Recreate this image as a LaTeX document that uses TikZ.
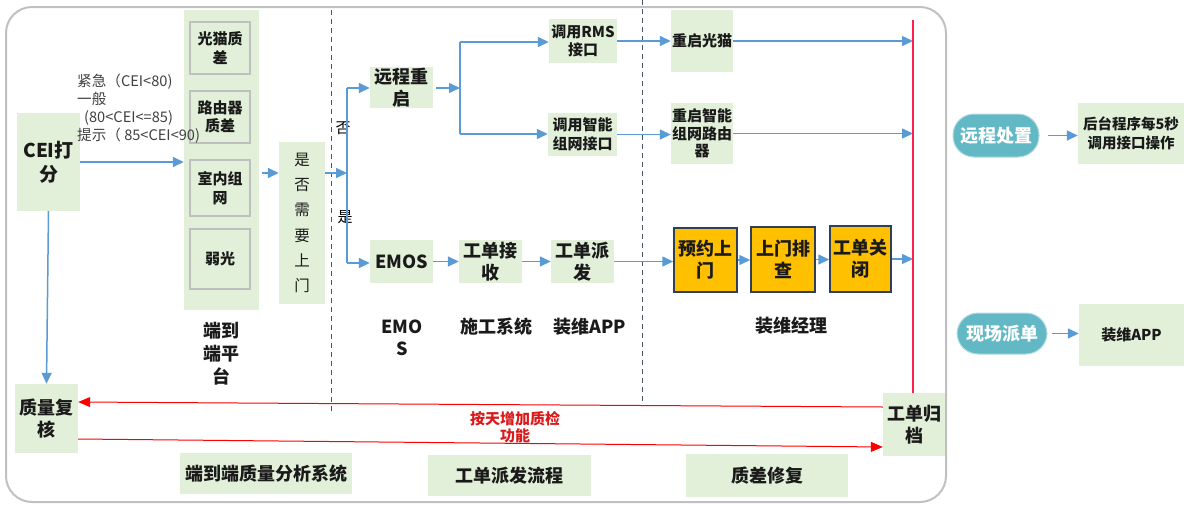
\documentclass[tikz,border=0pt]{standalone}
\usepackage{fontspec}
\setmainfont{Noto Sans CJK SC}
\usetikzlibrary{arrows.meta}
\definecolor{gfill}{HTML}{E2F0D9}
\definecolor{lblue}{HTML}{5B9BD5}
\definecolor{dashc}{HTML}{44546A}
\definecolor{orng}{HTML}{FFC000}
\definecolor{navyb}{HTML}{2F3F55}
\definecolor{pillc}{HTML}{62B8C4}
\definecolor{grayb}{HTML}{BFBFBF}
\definecolor{framec}{HTML}{C0C0C0}
\definecolor{txtc}{HTML}{1A1A1A}
\definecolor{condc}{HTML}{404040}
\definecolor{redv}{HTML}{FF2050}
\definecolor{redl}{HTML}{D91A1A}
\newcommand\bx[7][]{\node[#1, minimum width={#4-#2}, minimum height={#5-#3}] (#6) at ({(#2+#4)/2},{(#3+#5)/2}) {#7};}
\begin{document}
\begin{tikzpicture}[x=1pt,y=-1pt,
  base/.style={inner sep=0pt, align=center, text=txtc},
  gbox/.style={base, fill=gfill, font=\fontsize{18}{22}\selectfont\bfseries},
  sbox/.style={base, fill=gfill, font=\fontsize{15}{18.5}\selectfont\bfseries},
  grbox/.style={sbox, draw=grayb, line width=2pt},
  obox/.style={base, fill=orng, draw=navyb, line width=1.5pt, font=\fontsize{18}{22}\selectfont\bfseries},
  pill/.style={base, fill=pillc, draw=pillc!50!white, line width=1pt, rounded corners=21pt, text=white, font=\fontsize{18}{22}\selectfont\bfseries},
  lbl/.style={inner sep=0pt, align=center, text=txtc, font=\fontsize{18}{22.5}\selectfont\bfseries},
  bline/.style={draw=lblue, line width=1.5pt},
  barrow/.style={bline, -{Triangle[length=11pt,width=10pt]}},
  rarrow/.style={draw=red, line width=1pt, -{Triangle[length=12pt,width=10pt]}},
  dline/.style={draw=dashc, line width=1pt, dash pattern=on 5pt off 4pt}
]
\useasboundingbox (0,0) rectangle (1184,504);
% frame
\draw[framec, line width=2pt, rounded corners=26pt] (6,7) rectangle (946,502);
% dashed separators
\coordinate (d1a) at (331,10); \coordinate (d1b) at (331,413);
\coordinate (d2a) at (642,0); \coordinate (d2b) at (642,403);
\draw[dline] (d1a) -- (d1b);
\draw[dline] (d2a) -- (d2b);
% nodes
\bx[gbox, font=\fontsize{19}{24}\selectfont\bfseries]{17}{113}{80}{211}{cei}{CEI打\\分}
\bx[base, fill=gfill]{184}{10}{259}{310}{plat}{}
\bx[grbox]{190}{22}{250}{74}{gm}{光猫质\\差}
\bx[grbox]{190}{91}{250}{143}{lyq}{路由器\\质差}
\bx[grbox]{190}{160}{250}{216}{snzw}{室内组\\网}
\bx[grbox]{190}{229}{250}{289}{rg}{弱光}
\bx[base, fill=gfill, font=\fontsize{15.5}{25.3}\selectfont]{279}{142}{325}{304}{sfsm}{是\\否\\需\\要\\上\\门}
\bx[gbox]{370}{67}{433}{108}{ycqq}{远程重\\启}
\bx[sbox]{549}{19}{617}{63}{rms}{调用RMS\\接口}
\bx[sbox]{548}{113}{617}{156}{zn}{调用智能\\组网接口}
\bx[sbox]{671}{10}{733}{72}{cqgm}{重启光猫}
\bx[sbox, font=\fontsize{15}{17.5}\selectfont\bfseries]{671}{103}{733}{164}{cqzn}{重启智能\\组网路由\\器}
\bx[gbox]{370}{240}{433}{283}{emos}{EMOS}
\bx[gbox]{459}{240}{522}{283}{gdjs}{工单接\\收}
\bx[gbox]{551}{240}{614}{283}{gdpf}{工单派\\发}
\bx[obox]{674}{228}{737}{292}{yysm}{预约上\\门}
\bx[obox]{751}{227}{815}{292}{smpc}{上门排\\查}
\bx[obox]{830}{226}{891}{292}{gdgb}{工单关\\闭}
\bx[gbox]{883}{393}{945}{456}{gdgd}{工单归\\档}
\bx[gbox]{15}{384}{78}{453}{qc}{质量复\\核}
\bx[gbox]{180}{453}{352}{494}{lb1}{端到端质量分析系统}
\bx[gbox]{428}{455}{591}{496}{lb2}{工单派发流程}
\bx[gbox]{686}{454}{848}{497}{lb3}{质差修复}
\bx[pill]{953}{114}{1039}{157}{ycz}{远程处置}
\bx[sbox, font=\fontsize{14.5}{19}\selectfont\bfseries]{1078}{103}{1184}{164}{htcx}{后台程序每5秒\\调用接口操作}
\bx[pill]{957}{313}{1047}{354}{xcpd}{现场派单}
\bx[sbox]{1079}{304}{1184}{366}{zwapp}{装维APP}
% free labels
\node[anchor=north west, align=left, inner sep=0pt, text=condc, font=\fontsize{14.6}{18}\selectfont] (cond) at (77,74) {紧急（CEI<80)\\一般\\\hspace*{7pt}(80<CEI<=85)\\提示（ 85<CEI<90)};
\node[lbl, font=\fontsize{18}{23}\selectfont\bfseries] (tplat) at (221,354) {端到\\端平\\台};
\node[lbl] (temos) at (402,338) {EMO\\S};
\node[lbl] (tsg) at (496,327) {施工系统};
\node[lbl] (tzw) at (590,327) {装维APP};
\node[lbl] (tzwjl) at (791,326) {装维经理};
\node[inner sep=0pt, font=\fontsize{15}{18}\selectfont] (tno) at (343,128) {否};
\node[inner sep=0pt, font=\fontsize{15}{18}\selectfont] (tyes) at (345,217) {是};
\node[inner sep=0pt, align=center, text=redl, font=\fontsize{15}{17}\selectfont\bfseries] (tred) at (515,427) {按天增加质检\\功能};
% junction coordinates
\coordinate (j1) at (347,173);
\coordinate (j1a) at (347,88);
\coordinate (j1b) at (347,263);
\coordinate (j2) at (460,88);
\coordinate (j2a) at (460,42);
\coordinate (j2b) at (460,134);
\coordinate (rtop) at (913,20);
% blue connectors
\draw[barrow] (cei.east) -- (cei.east -| plat.west);
\draw[barrow] (cei.south) -- (qc.north);
\draw[barrow, shorten <=3pt] ([yshift=-13pt]plat.east) -- ([yshift=-13pt]plat.east -| sfsm.west);
\draw[barrow] (sfsm.east |- j1) -- (j1);
\draw[bline] (j1a) -- (j1b);
\draw[barrow] (j1a) -- (j1a -| ycqq.west);
\draw[barrow] (j1b) -- (j1b -| emos.west);
\draw[barrow, shorten <=3pt] (ycqq.east |- j2) -- (j2);
\draw[bline] (j2a) -- (j2b);
\draw[barrow] (j2a) -- (j2a -| rms.west);
\draw[barrow] (j2b) -- (j2b -| zn.west);
\draw[barrow] (rms.east) -- (rms.east -| cqgm.west);
\draw[barrow] (zn.east) -- (zn.east -| cqzn.west);
\draw[barrow] (cqgm.east) -- (cqgm.east -| rtop);
\draw[barrow] (cqzn.east) -- (cqzn.east -| rtop);
\draw[barrow] (emos.east) -- (emos.east -| gdjs.west);
\draw[barrow] (gdjs.east) -- (gdjs.east -| gdpf.west);
\draw[barrow] (gdpf.east) -- (gdpf.east -| yysm.west);
\draw[barrow] (yysm.east) -- (yysm.east -| smpc.west);
\draw[barrow] (smpc.east) -- (smpc.east -| gdgb.west);
\draw[barrow] (gdgb.east) -- (gdgb.east -| rtop);
\draw[barrow, shorten <=8pt] (ycz.east) -- (ycz.east -| htcx.west);
\draw[barrow, shorten <=4pt] (xcpd.east) -- (xcpd.east -| zwapp.west);
% red connectors
\draw[redv, line width=1.3pt] (rtop) -- (rtop |- gdgd.north);
\draw[rarrow] ([yshift=17.5pt]gdgd.west) -- ([yshift=16.5pt]qc.east);
\draw[rarrow] ([yshift=-20.5pt]qc.east) -- ([yshift=-22.5pt]gdgd.west);
\end{tikzpicture}
\end{document}
